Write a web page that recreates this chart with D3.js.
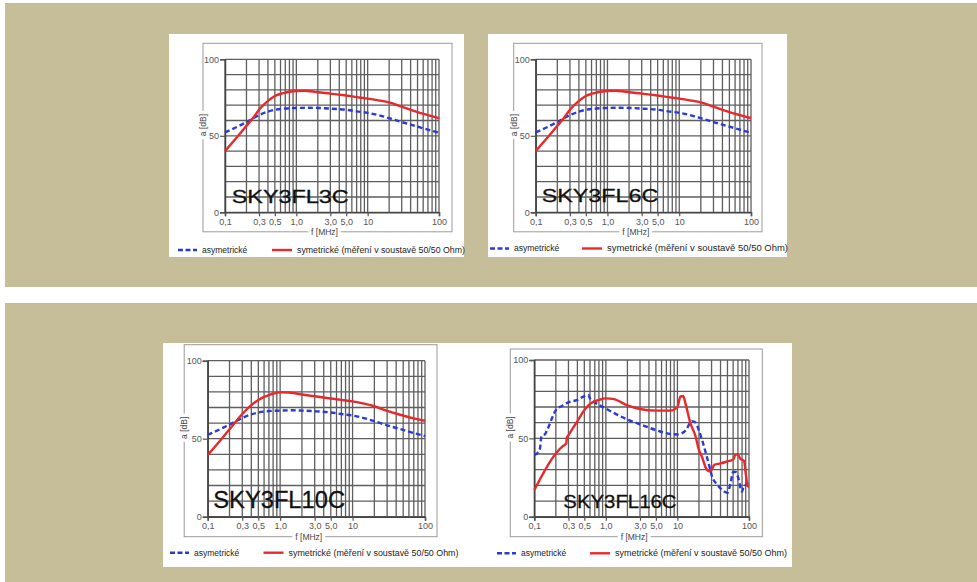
<!DOCTYPE html>
<html><head><meta charset="utf-8">
<script src="https://cdn.jsdelivr.net/npm/d3@7/dist/d3.min.js"></script>
<style>
html,body{margin:0;padding:0;background:#fff;}
svg{display:block;font-family:"Liberation Sans",Arial,sans-serif;}
</style></head>
<body>
<svg id="c" width="977" height="582"></svg>
<script>
// ---- data ----
const xTickVals = [0.1, 0.3, 0.5, 1, 3, 5, 10, 100];
const xTickLabels = ["0,1", "0,3", "0,5", "1,0", "3,0", "5,0", "10", "100"];
const yTickVals = [0, 50, 100];
const legendLabels = ["asymetrické", "symetrické (měření v soustavě 50/50 Ohm)"];
const titles = ["SKY3FL3C", "SKY3FL6C", "SKY3FL10C", "SKY3FL16C"];

const p1AsymF = [0.1,0.15,0.2,0.3,0.4,0.5,0.7,1,1.5,2,3,5,7,10,15,20,30,50,70,100];
const p1AsymV = [52.3,56,59,63.5,65.8,67,67.8,68.2,68.3,68.2,67.8,67,66,65,63.2,61.5,59,56,54,52];
const p1SymF  = [0.1,0.15,0.2,0.25,0.3,0.4,0.5,0.6,0.7,0.8,1,1.3,1.6,2,3,5,7,10,15,20,30,50,70,100];
const p1SymV  = [40,49.5,56.5,62,67,72.8,76,77.4,78.2,78.8,79.3,79.4,79.1,78.5,77.6,76.3,75.3,74.3,73,71.8,69,65.5,63.5,61.5];

const p2AsymF = [0.1,0.15,0.2,0.3,0.4,0.5,0.7,1,1.5,2,3,5,7,10,15,20,30,50,70,100];
const p2AsymV = [52.3,56,59,63.5,65.8,67,67.8,68.2,68.3,68.2,67.8,67,66,65,63.2,61.5,59,56,54,52];
const p2SymF  = [0.1,0.15,0.2,0.25,0.3,0.4,0.5,0.6,0.7,0.8,1,1.3,1.6,2,3,5,7,10,15,20,30,50,70,100];
const p2SymV  = [40,49.5,56.5,62,67,72.8,76,77.4,78.2,78.8,79.3,79.4,79.1,78.5,77.6,76.3,75.3,74.3,73,71.8,69,65.5,63.5,61.5];

const p3AsymF = [0.1,0.15,0.2,0.3,0.4,0.5,0.7,1,1.5,2,3,5,7,10,15,20,30,50,70,100];
const p3AsymV = [52.4,56.2,59,63.3,65.6,66.8,67.7,68,68.2,68,67.6,66.8,65.8,64.8,63,61.2,58.6,55.6,53.6,51.7];
const p3SymF  = [0.1,0.15,0.2,0.25,0.3,0.4,0.5,0.6,0.7,0.8,1,1.3,1.6,2,3,5,7,10,15,20,30,50,70,100];
const p3SymV  = [39.5,49,56,61.5,65.8,71.5,74.8,76.8,78,78.8,79.7,79.6,79.1,78.3,77.2,75.8,74.9,73.9,72.3,70.8,67.8,64.8,63,61.5];

const p4AsymF = [0.1,0.11,0.12,0.125,0.13,0.14,0.15,0.2,0.25,0.3,0.4,0.5,0.57,0.6,0.7,1,2,3,5,8,10,13,16,18,20,25,28,30,35,40,50,55,60,65,70,80,85,90,100];
const p4AsymV = [39.4,40.5,43.5,50.5,52,52.5,55,68,71,73,74.5,77,77.7,75.5,73,69,62,59,55.3,52.8,52.5,55,61,60,55,40.4,32,26.6,21,18,15.3,21,28.5,28.5,25.5,16,20,20,23.4];
const p4SymF  = [0.1,0.2,0.25,0.28,0.285,0.3,0.4,0.5,0.6,0.8,1,1.3,2,3,5,8,10,11,12,13,15,18,20,22,25,28,30,33,40,50,60,65,70,75,85,90,95,100];
const p4SymV  = [17,40.4,45,46.8,50.5,52,61,68,72,74.5,75.5,75,71,68.7,67.7,67.7,70,76.6,77,72,60.4,51,42.5,38.3,31,29,30,33.2,34,35.3,36.4,39.6,39.6,37.2,35.7,27.7,20,19];

// ---- layout ----
const svg = d3.select("#c");
const BEIGE = "#c5be98", RED = "#e8282b", BLUE = "#2a3ad6", GRID = "#5e5e5e";

svg.append("rect").attr("x",5).attr("y",3).attr("width",972).attr("height",284).attr("fill",BEIGE);
svg.append("rect").attr("x",5).attr("y",303).attr("width",972).attr("height",279).attr("fill",BEIGE);
svg.append("rect").attr("x",169).attr("y",34).attr("width",295).attr("height",223).attr("fill","#fff");
svg.append("rect").attr("x",488).attr("y",34).attr("width",299).attr("height",223).attr("fill","#fff");
svg.append("rect").attr("x",163).attr("y",343).attr("width",629).attr("height",224).attr("fill","#fff");

const panels = [
  {L:225, R:439, T:59.3, B:212.3, fL:22, fR:13, fT:16, fB:19.5,
   title:titles[0], tdx:6.7, tdy:9.6, tw:117, tfs:19,
   legY:250, bx:178, rx:272, rtw:168,
   asym:[p1AsymF,p1AsymV], sym:[p1SymF,p1SymV]},
  {L:535.7, R:751, T:59.3, B:212.3, fL:22, fR:11, fT:16, fB:19.5,
   title:titles[1], tdx:6, tdy:10.6, tw:116.7, tfs:19,
   legY:248.5, bx:490, rx:582, rtw:181,
   asym:[p2AsymF,p2AsymV], sym:[p2SymF,p2SymV]},
  {L:207.7, R:425, T:360.7, B:516.7, fL:23.5, fR:12, fT:16, fB:20,
   title:titles[2], tdx:5.6, tdy:8.4, tw:131.7, tfs:23,
   legY:552.7, bx:170, rx:263.5, rtw:170,
   asym:[p3AsymF,p3AsymV], sym:[p3SymF,p3SymV]},
  {L:534.3, R:749, T:360, B:516.7, fL:24, fR:13.3, fT:11, fB:20,
   title:titles[3], tdx:29, tdy:8.7, tw:113.3, tfs:19,
   legY:553.3, bx:497, rx:590, rtw:172,
   asym:[p4AsymF,p4AsymV], sym:[p4SymF,p4SymV]}
];

function drawPanel(p) {
  const g = svg.append("g");
  const x = d3.scaleLog().domain([0.1,100]).range([p.L,p.R]);
  const y = d3.scaleLinear().domain([0,100]).range([p.B,p.T]);

  // outer frame
  const fx0 = p.L - p.fL, fx1 = p.R + p.fR, fy0 = p.T - p.fT, fy1 = p.B + p.fB;
  g.append("rect").attr("x",fx0).attr("y",fy0).attr("width",fx1-fx0).attr("height",fy1-fy0)
    .attr("fill","none").attr("stroke","#9a9a9a").attr("stroke-width",1);

  // grid
  g.selectAll(".vg").data(x.ticks()).join("line")
    .attr("x1",d=>x(d)).attr("x2",d=>x(d)).attr("y1",p.T).attr("y2",p.B)
    .attr("stroke",GRID).attr("stroke-width",1.3);
  g.selectAll(".hg").data(y.ticks(10)).join("line")
    .attr("x1",p.L).attr("x2",p.R).attr("y1",d=>y(d)).attr("y2",d=>y(d))
    .attr("stroke",GRID).attr("stroke-width",1.3);

  // axes
  const ax = g.append("g").attr("transform",`translate(0,${p.B})`)
    .call(d3.axisBottom(x).tickValues(xTickVals).tickFormat((d,i)=>xTickLabels[i]).tickSize(4).tickPadding(2));
  const ay = g.append("g").attr("transform",`translate(${p.L},0)`)
    .call(d3.axisLeft(y).tickValues(yTickVals).tickSize(5).tickPadding(1));
  [ax,ay].forEach(a=>{
    a.select(".domain").attr("stroke","#444").attr("stroke-width",1.5);
    a.selectAll(".tick line").attr("stroke","#555").attr("stroke-width",1.2);
    a.selectAll(".tick text").attr("fill","#555").attr("font-size",9)
      .attr("font-family","'Liberation Sans',Arial,sans-serif");
  });

  // axis titles on frame with knockouts
  function frameLabel(tx, ty, txt, rot) {
    const lg = g.append("g").attr("transform",`translate(${tx},${ty}) rotate(${rot})`);
    const t = lg.append("text").attr("text-anchor","middle").attr("dy","0.35em")
      .attr("font-size",8.5).attr("fill","#444").text(txt);
    const bb = t.node().getBBox();
    lg.insert("rect","text").attr("x",bb.x-3).attr("y",bb.y).attr("width",bb.width+6)
      .attr("height",bb.height).attr("fill","#fff");
  }
  frameLabel(p.L + 0.465*(p.R-p.L), fy1, "f [MHz]", 0);
  frameLabel(fx0, p.T + 0.43*(p.B-p.T), "a [dB]", -90);

  // curves
  const line = d3.line().x(d=>x(d[0])).y(d=>y(d[1])).curve(d3.curveMonotoneX);
  const asym = p.asym[0].map((f,i)=>[f,p.asym[1][i]]);
  const sym = p.sym[0].map((f,i)=>[f,p.sym[1][i]]);
  g.append("path").datum(asym).attr("d",line).attr("fill","none")
    .attr("stroke",BLUE).attr("stroke-width",2.4).attr("stroke-dasharray","5,3");
  g.append("path").datum(sym).attr("d",line).attr("fill","none")
    .attr("stroke",RED).attr("stroke-width",2.4);

  // title
  g.append("text").attr("x",p.L+p.tdx).attr("y",p.B-p.tdy)
    .attr("font-size",p.tfs).attr("fill","#111").attr("stroke","#111").attr("stroke-width",0.3)
    .attr("textLength",p.tw).attr("lengthAdjust","spacingAndGlyphs").text(p.title);

  // legend
  g.append("line").attr("x1",p.bx).attr("x2",p.bx+19).attr("y1",p.legY).attr("y2",p.legY)
    .attr("stroke",BLUE).attr("stroke-width",2.4).attr("stroke-dasharray","5,2.5");
  g.append("text").attr("x",p.bx+24).attr("y",p.legY).attr("dy","0.35em")
    .attr("font-size",8.5).attr("fill","#222").text(legendLabels[0]);
  g.append("line").attr("x1",p.rx).attr("x2",p.rx+20).attr("y1",p.legY).attr("y2",p.legY)
    .attr("stroke",RED).attr("stroke-width",2.4);
  g.append("text").attr("x",p.rx+25).attr("y",p.legY).attr("dy","0.35em")
    .attr("font-size",8.5).attr("fill","#222")
    .attr("textLength",p.rtw).attr("lengthAdjust","spacingAndGlyphs").text(legendLabels[1]);
}
panels.forEach(drawPanel);
</script>
</body></html>
